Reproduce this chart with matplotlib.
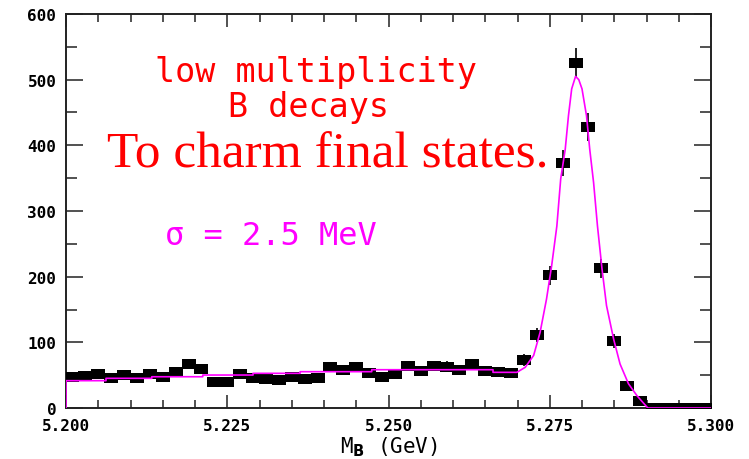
#!/usr/bin/env python3
"""Low multiplicity B decays to charm: beam-constrained mass peak with fit."""

import numpy as np
import matplotlib
matplotlib.use("Agg")
import matplotlib.pyplot as plt
from matplotlib.ticker import MultipleLocator, FormatStrFormatter

# 2 MeV bins from 5.200 to 5.300 GeV
bin_centers = [5.201 + 0.002 * k for k in range(50)]
counts = [
    47, 49, 52, 45, 50, 46, 52, 47, 55, 67,
    60, 39, 40, 52, 46, 44, 43, 47, 44, 45,
    62, 58, 62, 54, 47, 52, 64, 56, 64, 63,
    58, 67, 56, 55, 54, 73, 111, 202, 373, 525,
    428, 213, 102, 33, 11, 0, 0, 0, 0, 0,
]

# fitted curve (gaussian on background)
fit_x = [
    5.2000, 5.2000, 5.2062, 5.2062, 5.2133, 5.2133, 5.2212, 5.2212,
    5.2290, 5.2290, 5.2363, 5.2363, 5.2474, 5.2474, 5.2662, 5.2662,
    5.2699, 5.2712, 5.2725, 5.2735, 5.2745, 5.2753, 5.2761, 5.2767,
    5.2774, 5.2779, 5.2784, 5.2790, 5.2795, 5.2800, 5.2807, 5.2812,
    5.2818, 5.2824, 5.2831, 5.2838, 5.2849, 5.2859, 5.2872, 5.2885,
    5.2902, 5.3000,
]
fit_y = [
    0, 41.6, 41.6, 45.2, 45.2, 47.6, 47.6, 50.2,
    50.2, 52.8, 52.8, 55.3, 55.3, 58.3, 58.3, 54.3,
    54.3, 62, 80, 115, 166, 217, 277, 349,
    394, 445, 486, 505, 500, 486, 445, 394,
    343, 277, 212, 156, 105, 67, 37, 19,
    0, 0,
]

x_ticks = [5.200, 5.225, 5.250, 5.275, 5.300]
y_ticks = [0, 100, 200, 300, 400, 500, 600]

W, H = 749, 460


def fx(px):
    return px / W


def fy(py):
    return 1 - py / H


def main():
    fig = plt.figure(figsize=(W / 100, H / 100), dpi=100)
    ax = fig.add_axes([fx(66), fy(409), (711 - 66) / W, (409 - 15) / H])

    x = np.array(bin_centers)
    y = np.array(counts, dtype=float)
    err = np.sqrt(y)
    has_err = y > 0
    ax.errorbar(x[has_err], y[has_err], yerr=err[has_err], fmt="none",
                ecolor="black", elinewidth=1.2, zorder=2)
    box = [(-1, -0.65), (1, -0.65), (1, 0.65), (-1, 0.65), (-1, -0.65)]
    ax.plot(x, y, linestyle="none", marker=box, markersize=10,
            color="black", markeredgewidth=0, zorder=3)

    ax.plot(fit_x, fit_y, color="#ff00ff", linewidth=1.2, zorder=4)

    ax.set_xlim(5.200, 5.300)
    ax.set_ylim(0, 600)
    ax.set_xticks(x_ticks)
    ax.set_yticks(y_ticks)
    ax.xaxis.set_minor_locator(MultipleLocator(0.005))
    ax.yaxis.set_minor_locator(MultipleLocator(50))
    ax.xaxis.set_major_formatter(FormatStrFormatter("%.3f"))

    for label in ax.get_xticklabels() + ax.get_yticklabels():
        label.set_fontfamily("DejaVu Sans Mono")
        label.set_fontweight("bold")
        label.set_fontsize(11.5)

    ax.tick_params(axis="both", which="both", direction="in",
                   top=True, right=True, width=1.1, color="#222222")
    ax.tick_params(axis="x", which="major", length=9.4, pad=7.5)
    ax.tick_params(axis="x", which="minor", length=5.8)
    ax.tick_params(axis="y", which="major", length=12.2, pad=7)
    ax.tick_params(axis="y", which="minor", length=7.9)
    for spine in ax.spines.values():
        spine.set_linewidth(1.4)
        spine.set_color("#222222")

    ax.set_xlabel(r"M$_{\mathbf{B}}$ (GeV)", fontsize=15,
                  fontfamily="DejaVu Sans Mono")
    ax.xaxis.set_label_coords(0.5, -0.068)

    fig.text(fx(316), fy(82), "low multiplicity", color="red",
             fontsize=24, fontfamily="DejaVu Sans Mono", ha="center", va="baseline")
    fig.text(fx(309), fy(117), "B decays", color="red",
             fontsize=24, fontfamily="DejaVu Sans Mono", ha="center", va="baseline")
    fig.text(fx(107), fy(168), "To charm final states.", color="red",
             fontsize=37, fontfamily="Liberation Serif", ha="left", va="baseline")
    fig.text(fx(165), fy(245), "σ = 2.5 MeV", color="#ff00ff",
             fontsize=23, fontfamily="DejaVu Sans Mono", ha="left", va="baseline")

    fig.savefig("out.png", dpi=100)
    plt.close(fig)


if __name__ == "__main__":
    main()
